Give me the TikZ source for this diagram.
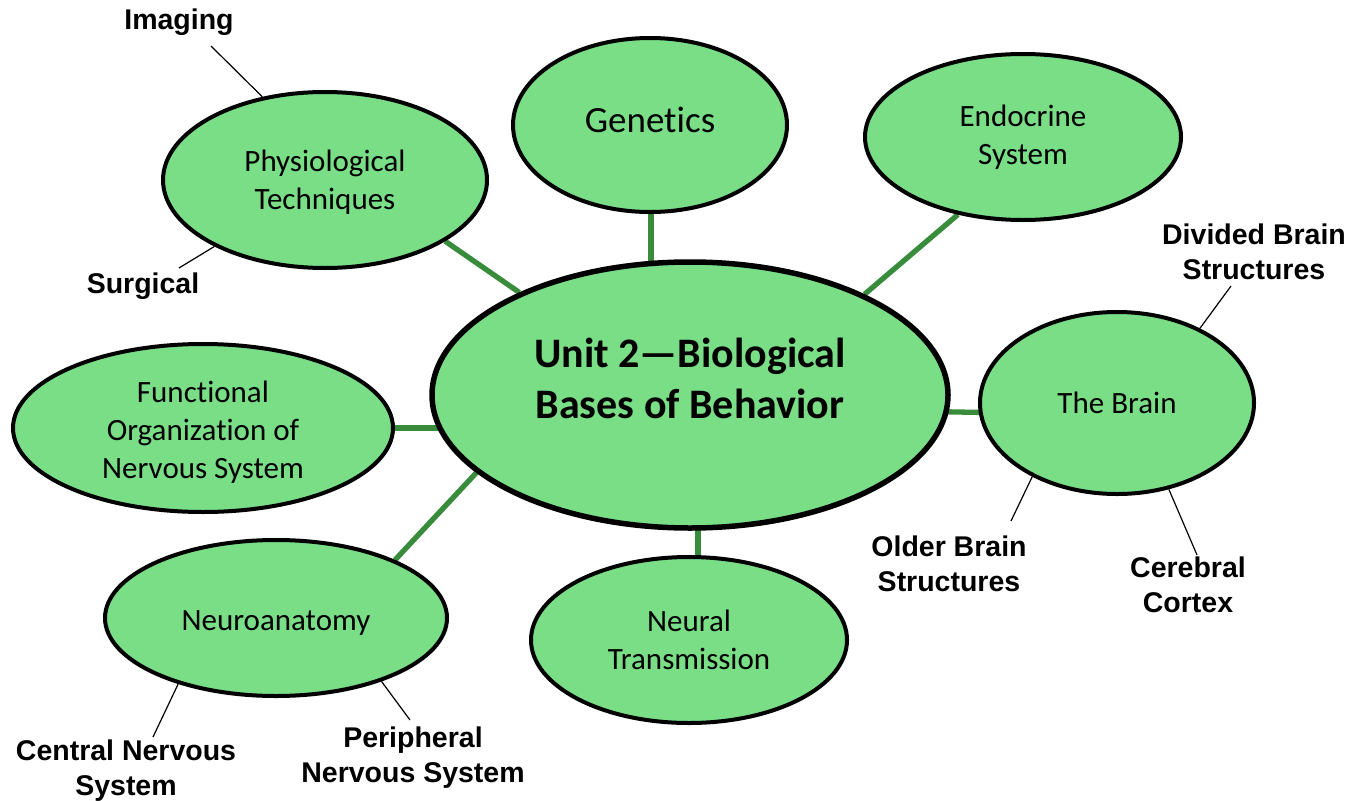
\documentclass[tikz,border=0pt]{standalone}
\usepackage{fontspec}
\usetikzlibrary{backgrounds,calc,shapes.geometric}
\newfontfamily\calibri{Carlito}[Ligatures=NoCommon]
\newfontfamily\arialf{Liberation Sans}
\definecolor{bubble}{RGB}{122,222,135}
\definecolor{linkgreen}{RGB}{56,140,60}
\newcommand{\lines}[2]{\raisebox{#1}[\height][\depth]{\begin{tabular}{@{}c@{}}#2\end{tabular}}}
\newcommand{\oneline}[2]{\raisebox{#1}[\height][\depth]{#2}}
\tikzset{
  bub/.style={ellipse, draw=black, line width=4pt, fill=bubble, inner sep=0pt, align=center,
    font=\calibri\fontsize{31}{38}\selectfont},
  mainbub/.style={bub, line width=5.5pt, font=\calibri\bfseries\fontsize{42}{51}\selectfont},
  lab/.style={align=center, inner sep=0pt, font=\arialf\bfseries\fontsize{28.5}{35}\selectfont},
  conn/.style={draw=linkgreen, line width=5.3pt},
  thin/.style={draw=black, line width=1.2pt},
}
\begin{document}
\begin{tikzpicture}[x=1pt,y=-1pt]
\useasboundingbox (0,0) rectangle (1351,800);
% main bubbles
\node[mainbub, minimum width=516pt, minimum height=266pt] (center) at (690,395)
  {\lines{12pt}{Unit 2—Biological\\Bases of Behavior}};
\node[bub, minimum width=324pt, minimum height=176pt] (phys) at (325,180) {\lines{-3pt}{Physiological\\Techniques}};
\node[bub, minimum width=274pt, minimum height=174pt, font=\calibri\fontsize{37}{45}\selectfont] (gen) at (650,125) {\oneline{5pt}{Genetics}};
\node[bub, minimum width=316pt, minimum height=166pt] (endo) at (1023,137) {Endocrine\\System};
\node[bub, minimum width=274pt, minimum height=182pt] (brain) at (1117,403) {The Brain};
\node[bub, minimum width=380pt, minimum height=168pt] (func) at (203,428) {\lines{-4.5pt}{Functional\\Organization of\\Nervous System}};
\node[bub, minimum width=342pt, minimum height=156pt] (neuro) at (276,618) {\oneline{-5pt}{Neuroanatomy}};
\node[bub, minimum width=316pt, minimum height=166pt] (nt) at (689,640) {Neural\\Transmission};
% green connectors
\begin{scope}[on background layer]
  \draw[conn] (phys.-27) -- (center.149);
  \draw[conn] ([xshift=1pt]gen.center) -- ([xshift=1pt]gen.center |- center.center);
  \draw[conn] (endo.230) -- (center.30);
  \draw[conn] ([yshift=-12pt]brain.center) -- ([yshift=-12pt]center.center);
  \draw[conn] (func.center) -- (center.center |- func.center);
  \draw[conn] (neuro.26) -- (center.200);
  \draw[conn] ([xshift=9pt]nt.center) -- ([xshift=9pt]nt.center |- center.center);
\end{scope}
% labels
\node[lab] (imaging) at (179,22) {Imaging};
\node[lab] (surgical) at (143,286) {Surgical};
\node[lab] (divided) at (1254,252) {Divided Brain\\Structures};
\node[lab] (older) at (949,564) {Older Brain\\Structures};
\node[lab] (cerebral) at (1188,585) {Cerebral\\Cortex};
\node[lab] (cns) at (126,771) {Central Nervous\\System};
\node[lab] (pns) at (413,758) {Peripheral\\Nervous System};
% label line ends
\coordinate (imgE) at (211,46);
\coordinate (surE) at (179,268);
\coordinate (divE) at (1231,286);
\coordinate (oldE) at (1011,521);
\coordinate (cerE) at (1197,555);
\coordinate (cnsE) at (153,737);
\coordinate (pnsE) at (410,720);
\draw[thin] (phys.127) -- (imgE);
\draw[thin] (phys.211) -- (surE);
\draw[thin] (brain.42) -- (divE);
\draw[thin] (brain.221) -- (oldE);
\draw[thin] (brain.-59) -- (cerE);
\draw[thin] (neuro.214) -- (cnsE);
\draw[thin] (neuro.-31) -- (pnsE);
\end{tikzpicture}
\end{document}
